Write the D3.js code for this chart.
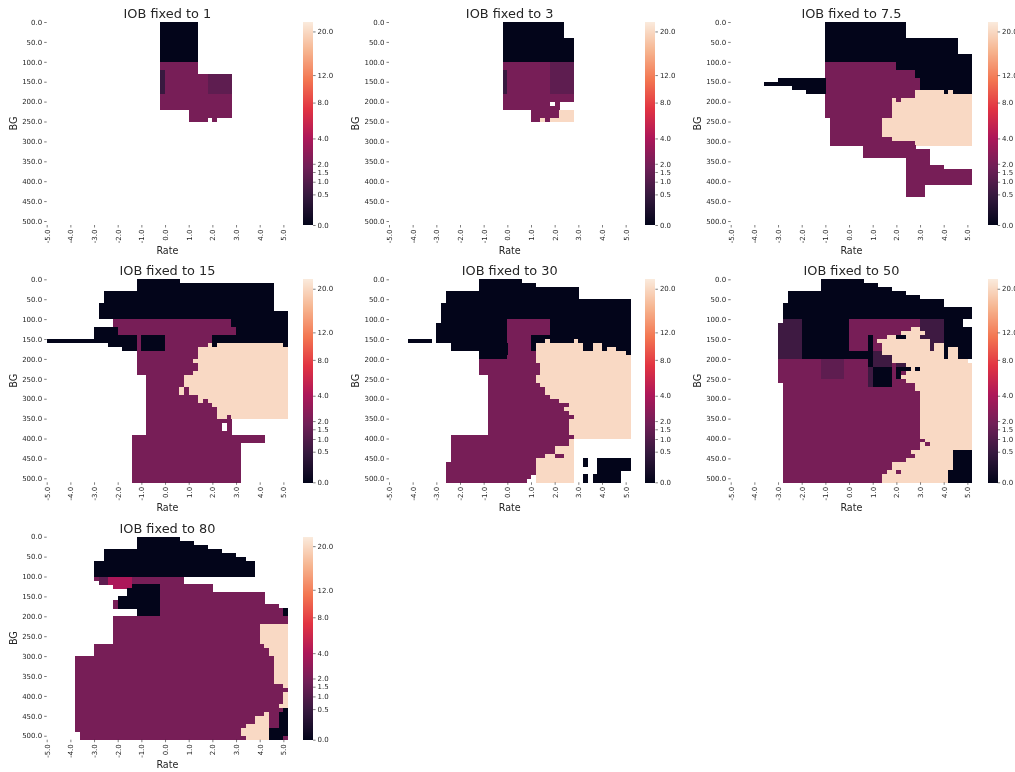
<!DOCTYPE html>
<html><head><meta charset="utf-8">
<style>html,body{margin:0;padding:0;background:#fff}svg{display:block;filter:blur(0.35px)}text{font-family:"DejaVu Sans",sans-serif;fill:#262626}</style>
<script src="https://cdn.jsdelivr.net/npm/d3@7"></script>
</head><body><div id="chart"></div>
<script>
// value patches, painted in order: [bgFrom, bgTo, rateFrom, rateTo, value]  (null = no data)
const iob1 = [[0,100,-.2,1.4,0],[100,130,-.2,1.4,2],[130,220,-.2,2.8,2],[220,240,1,2.8,2],[240,250,1,1.8,2],[240,250,2,2.2,2],[120,180,-.2,0,.5],[130,180,1.8,2.8,1.3]];
const iob3 = [[0,40,-.2,2.4,0],[40,100,-.2,2.8,0],[100,200,-.2,2.8,2],[200,220,-.2,2.2,2],[200,210,1.8,2,null],[220,240,1,2.2,2],[220,240,2.2,2.8,20],[240,250,1,1.4,2],[240,250,1.4,1.6,20],[240,250,1.6,1.8,2],[240,250,1.8,2.8,20],[120,180,-.2,0,.5],[100,180,1.8,2.8,1.3]];
const iob7_5 = [[0,40,-1,2.4,0],[40,80,-1,4.6,0],[80,100,-1,5.2,0],[100,120,-1,2,2],[100,120,2,5.2,0],[120,140,-1,2.8,2],[120,140,2.8,5.2,0],[140,170,-1,3,2],[140,170,3,5.2,0],[170,180,-1,2.8,2],[170,180,2.8,4,20],[170,180,4,4.2,0],[170,180,4.2,4.4,20],[170,180,4.4,5.2,0],[180,190,-1,2.8,2],[180,190,2.8,5.2,20],[190,200,-1,1.8,2],[190,200,1.8,2,20],[190,200,2,2.2,2],[190,200,2.2,5.2,20],[200,240,-1,1.8,2],[200,240,1.8,5.2,20],[240,290,-.8,1.4,2],[240,290,1.4,5.2,20],[290,300,-.8,1.8,2],[290,300,1.8,5.2,20],[300,310,-.8,2.8,2],[300,310,2.8,5.2,20],[310,320,.6,2.8,2],[320,340,.6,3.4,2],[340,360,2.4,3.4,2],[360,370,2.4,4,2],[370,410,2.4,5.2,2],[410,440,2.4,3.2,2],[140,150,-3,-1,0],[150,160,-3.6,-1,0],[160,170,-2.4,-1,0],[170,180,-1.8,-1,0]];
const iob15 = [[0,10,-1.2,.6,0],[10,30,-1.2,4.6,0],[30,60,-2.6,4.6,0],[60,80,-2.8,4.6,0],[80,100,-2.8,5.2,0],[100,120,-2.2,2.8,2],[100,120,2.8,5.2,0],[120,140,-3,-2,0],[120,140,-2,3,2],[120,140,3,5.2,0],[140,150,-3,-1.2,0],[150,160,-5,-1.2,0],[160,170,-2.4,-1.2,0],[170,180,-1.8,-1.2,0],[140,180,-1.2,-1,2],[140,180,-1,0,0],[140,160,0,2,2],[140,160,2,5.2,0],[160,170,0,1.8,2],[160,170,1.8,2,20],[160,170,2,2.2,0],[160,170,2.2,5,20],[160,170,5,5.2,0],[170,180,0,1.4,2],[170,200,1.4,5.2,20],[180,200,-1.2,1.4,2],[200,210,-1.2,1.2,2],[200,210,1.2,5.2,20],[210,230,-1.2,1.4,2],[210,230,1.4,5.2,20],[230,240,-1.2,1.2,2],[230,240,1.2,5.2,20],[240,270,-.8,.8,2],[240,270,.8,5.2,20],[270,290,-.8,.6,2],[270,290,.6,.8,20],[270,290,.8,1,2],[270,290,1,5.2,20],[290,300,-.8,1.4,2],[290,300,1.4,5.2,20],[300,310,-.8,1.4,2],[300,310,1.4,1.6,20],[300,310,1.6,1.8,2],[300,310,1.8,5.2,20],[310,320,-.8,2,2],[310,320,2,5.2,20],[320,340,-.8,2.2,2],[320,340,2.2,5.2,20],[340,350,-.8,2.2,2],[340,350,2.2,2.6,20],[340,350,2.6,2.8,2],[340,350,2.8,5.2,20],[350,390,-.8,2.8,2],[360,380,2.4,2.6,null],[390,410,-1.4,4.2,2],[410,510,-1.4,3.2,2]];
const iob30 = [[0,10,-1.2,.6,0],[10,20,-1.2,1.2,0],[20,30,-1.2,3,0],[30,50,-2.6,3,0],[50,60,-2.6,5.2,0],[60,110,-2.8,5.2,0],[110,160,-3,0,0],[110,150,1,5.2,0],[100,140,0,1.8,2],[140,190,0,1,2],[150,160,-4.2,-3.2,0],[150,160,1,1.6,0],[150,160,1.6,1.8,20],[150,160,1.8,2.8,0],[150,160,2.8,3,20],[150,160,3,5.2,0],[160,180,-2.4,0,0],[160,180,1,1.2,0],[160,190,1.2,3.2,20],[160,180,3.2,3.6,0],[160,180,3.6,4,20],[160,170,4,5.2,0],[170,180,4,4.2,0],[170,180,4.2,4.6,20],[170,180,4.6,5.2,0],[180,200,-1.2,0,0],[180,190,1,1.2,2],[180,190,3.2,5,20],[180,190,5,5.2,0],[190,200,0,1.2,2],[190,400,1.2,5.2,20],[400,510,1.2,2.8,20],[200,210,-1.2,1.2,2],[210,240,-1.2,1.4,2],[240,260,-.8,1.2,2],[260,270,-.8,1.4,2],[270,290,-.8,1.6,2],[290,300,-.8,1.8,2],[300,310,-.8,2.2,2],[310,320,-.8,2.6,2],[320,330,-.8,2.4,2],[330,340,-.8,2.6,2],[340,350,-.8,2.8,2],[350,390,-.8,2.6,2],[390,400,-2.4,2.8,2],[400,420,-2.4,2.6,2],[420,440,-2.4,2,2],[440,450,-2.4,1.6,2],[440,450,2,2.4,2],[450,460,-2.4,1.2,2],[460,490,-2.6,1.2,2],[490,500,-2.6,1,2],[500,510,-2.6,.8,2],[450,470,3.2,3.4,0],[490,510,3.2,3.4,0],[450,480,3.8,5.2,0],[480,490,3.8,4.8,0],[490,510,3.6,4.8,0]];
const iob50 = [[0,10,-1.2,.6,0],[10,20,-1.2,1.2,0],[20,30,-1.2,1.8,0],[30,40,-2.6,2.4,0],[40,50,-2.6,3,0],[50,60,-2.6,4,0],[60,70,-2.8,4,0],[70,100,-2.8,5.2,0],[100,200,-2,0,0],[100,200,4,5.2,0],[100,120,4.8,5.2,null],[100,110,-2.8,-2,.6],[110,200,-3,-2,.6],[100,180,0,3,2],[100,180,3,4,.6],[120,130,2.6,3,20],[130,140,2.2,3.2,20],[140,150,.8,1,0],[140,150,1.6,2,20],[140,150,2,2.4,0],[140,150,2.4,3,20],[150,180,.8,1,0],[150,160,1.2,3.4,20],[160,190,1.4,3.4,20],[160,180,3.6,4,20],[170,200,4.2,4.6,20],[180,200,0,.8,0],[180,220,.8,1,0],[180,190,1,1.4,.6],[180,190,3.4,4,20],[190,220,1,1.8,.6],[190,200,1.8,4,20],[200,210,1.8,5,20],[210,220,2.4,5.2,20],[200,260,-3,.8,2],[200,250,-1.2,-.2,1.3],[220,270,.8,1,.6],[220,270,1,1.8,0],[210,250,1.8,2,2],[210,220,2,2.4,.6],[220,230,2,2.6,0],[220,230,2.6,2.8,20],[220,230,2.8,3,0],[220,230,3,5.2,20],[230,240,2,2.2,0],[230,240,2.2,2.4,2],[230,240,2.4,5.2,20],[240,250,2,2.2,0],[240,250,2.2,5.2,20],[250,260,1.8,2.4,2],[250,260,2.4,5.2,20],[260,270,-2.8,.8,2],[260,270,1.8,2.8,2],[260,270,2.8,5.2,20],[270,280,-2.8,2.8,2],[270,280,2.8,5.2,20],[280,400,-2.8,3,2],[280,430,3,5.2,20],[400,410,-2.8,3.2,2],[410,430,-2.8,3,2],[410,420,3.2,3.4,2],[430,440,-2.8,2.6,2],[430,440,2.6,4.4,20],[440,450,-2.8,2.8,2],[440,450,2.8,4.4,20],[450,460,-2.8,2.4,2],[450,460,2.4,4.4,20],[460,480,-2.8,1.8,2],[460,480,1.8,4.4,20],[480,490,-2.8,1.6,2],[480,490,1.6,4.2,20],[480,490,2,2.2,2],[490,510,-2.8,1.4,2],[490,510,1.4,4.2,20],[430,480,4.4,5.2,0],[480,510,4.2,5.2,0]];
const iob80 = [[0,10,-1.2,.6,0],[10,20,-1.2,1.2,0],[20,30,-1.2,1.8,0],[30,40,-2.6,2.4,0],[40,50,-2.6,3,0],[50,60,-2.6,3.4,0],[60,100,-3,3.8,0],[100,110,-3,-2.8,2],[100,120,-2.8,-2.4,1.3],[100,120,-2.4,-1.4,4],[120,130,-2.2,-1.4,4],[100,120,-1.4,.8,2],[120,130,-1.4,-.2,0],[130,150,-1.6,-.2,0],[150,180,-2,-.2,0],[160,180,-2.2,-2,2],[180,200,-1.2,-.2,0],[120,140,-.2,2,2],[140,170,-.2,4.2,2],[170,180,-.2,4.8,2],[180,200,-.2,5,2],[180,200,5,5.2,0],[200,270,-2.2,5.2,2],[270,300,-3,5.2,2],[300,490,-3.8,5.2,2],[490,510,-3.6,5.2,2],[220,270,4,5.2,20],[270,280,4.2,5.2,20],[280,300,4.4,5.2,20],[300,370,4.6,5.2,20],[370,380,5,5.2,20],[390,420,5,5.2,20],[420,430,4.8,5.2,20],[430,440,5,5.2,0],[440,480,4.8,5.2,0],[440,450,4.2,4.4,20],[450,470,3.8,4.4,20],[470,480,3.4,4.4,20],[480,500,3.2,4.4,20],[500,510,3.4,4.4,20],[480,500,4.4,5.2,0],[500,510,4.4,5,0]];

const titles = ["IOB fixed to 1","IOB fixed to 3","IOB fixed to 7.5","IOB fixed to 15","IOB fixed to 30","IOB fixed to 50","IOB fixed to 80"];
const grids = [iob1, iob3, iob7_5, iob15, iob30, iob50, iob80];
const rateTicks = [-5,-4,-3,-2,-1,0,1,2,3,4,5];
const bgTicks = [0,50,100,150,200,250,300,350,400,450,500];
const cbarTicks = [0,0.5,1,1.5,2,4,8,12,20];
const vMax = 22;
// seaborn "rocket" colormap anchors
const rocket = ["#03051a","#35193e","#701f57","#ad1759","#e13342","#f37651","#f6b48f","#faebdd"];

const W=1015,H=772;
const colX=[46.7,389,730.7], rowY=[22,279.3,536.7], cbarGap=[15,15,15.5];
const plotW=241.4, plotH=203, cbarW=10;
const svg=d3.select("#chart").append("svg").attr("width",W).attr("height",H);
const ramp=d3.piecewise(d3.interpolateRgb,rocket);
const norm=d3.scaleSqrt().domain([0,vMax]).range([0,1]);
const fmt=v=>v.toFixed(1);
const cellCols=d3.range(51).map(i=>-5+i*.2);

grids.forEach((patches,i)=>{
  const c=i%3,r=Math.floor(i/3);
  const L=colX[c],T=rowY[r];
  const x=d3.scaleLinear().domain([-5,5.2]).range([L,L+plotW]);
  const y=d3.scaleLinear().domain([0,510]).range([T,T+plotH]);
  // paint patches into the grid
  const grid=new Map();
  patches.forEach(([b0,b1,r0,r1,v])=>{
    for(let b=b0;b<b1;b+=10){
      const ci0=Math.round((r0+5)/.2),ci1=Math.round((r1+5)/.2);
      for(let k=ci0;k<ci1;k++){
        const key=(b/10)*51+k;
        if(v===null) grid.delete(key); else grid.set(key,{b,k,v});
      }
    }
  });
  const g=svg.append("g");
  g.append("g").attr("shape-rendering","crispEdges").selectAll("rect").data([...grid.values()]).join("rect")
    .attr("x",d=>x(cellCols[d.k])).attr("y",d=>y(d.b))
    .attr("width",d=>x(cellCols[d.k]+.2)-x(cellCols[d.k])+.3)
    .attr("height",d=>y(d.b+10)-y(d.b)+.3)
    .attr("fill",d=>ramp(norm(d.v)));
  // axes
  const ax=g.append("g").attr("transform",`translate(0,${T+plotH})`)
    .call(d3.axisBottom(x).tickValues(rateTicks).tickFormat(fmt).tickSize(2.5).tickPadding(2));
  ax.select(".domain").remove();
  ax.selectAll(".tick line").attr("stroke","#262626").attr("stroke-width",.6);
  ax.selectAll(".tick text").attr("font-size",7).attr("transform","rotate(-90)").attr("text-anchor","end")
    .attr("x",-4.5).attr("y",0).attr("dy","0.35em").style("fill","#262626");
  const ay=g.append("g").attr("transform",`translate(${L},0)`)
    .call(d3.axisLeft(y).tickValues(bgTicks).tickFormat(fmt).tickSize(2.5).tickPadding(2));
  ay.select(".domain").remove();
  ay.selectAll(".tick line").attr("stroke","#262626").attr("stroke-width",.6);
  ay.selectAll(".tick text").attr("font-size",7).style("fill","#262626");
  // text
  g.append("text").attr("x",L+plotW/2).attr("y",T-4).attr("text-anchor","middle").attr("font-size",12.9).text(titles[i]);
  g.append("text").attr("x",L+plotW/2).attr("y",T+plotH+28.5).attr("text-anchor","middle").attr("font-size",9.6).text("Rate");
  g.append("text").attr("transform",`translate(${L-30},${T+plotH/2}) rotate(-90)`).attr("text-anchor","middle").attr("font-size",9.6).text("BG");
  // colour bar
  const cx=L+plotW+cbarGap[c];
  const cy=d3.scaleSqrt().domain([0,vMax]).range([T+plotH,T]);
  const steps=d3.range(0,plotH,1);
  g.append("g").attr("shape-rendering","crispEdges").selectAll("rect").data(steps).join("rect")
    .attr("x",cx).attr("width",cbarW).attr("y",d=>T+d).attr("height",1.2)
    .attr("fill",d=>ramp(1-(d+.5)/plotH));
  const ac=g.append("g").attr("transform",`translate(${cx+cbarW},0)`)
    .call(d3.axisRight(cy).tickValues(cbarTicks).tickFormat(fmt).tickSize(2.5).tickPadding(2));
  ac.select(".domain").remove();
  ac.selectAll(".tick line").attr("stroke","#262626").attr("stroke-width",.6);
  ac.selectAll(".tick text").attr("font-size",7).style("fill","#262626");
});
</script></body></html>
